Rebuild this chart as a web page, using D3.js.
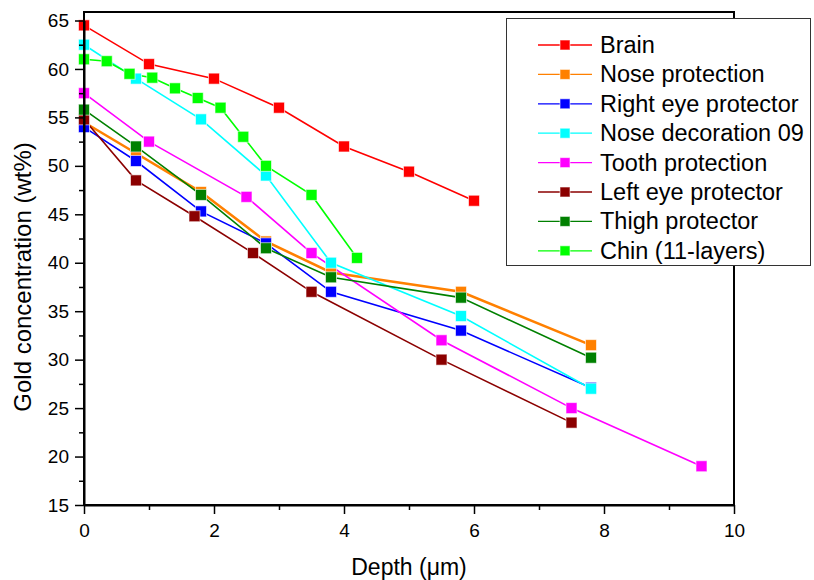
<!DOCTYPE html>
<html>
<head>
<meta charset="utf-8">
<script src="https://cdn.jsdelivr.net/npm/d3@7"></script>
<style>
  body { margin: 0; background: #fff; }
  text { font-family: "Liberation Sans", Arial, sans-serif; }
</style>
</head>
<body>
<div id="chart"></div>
<script>
// series names and colours
const seriesNames = ["Brain", "Nose protection", "Right eye protector", "Nose decoration 09",
  "Tooth protection", "Left eye protector", "Thigh protector", "Chin (11-layers)"];
const seriesColors = ["#ff0000", "#ff8000", "#0000ff", "#00ffff", "#ff00ff", "#8b0000", "#008000", "#00ff00"];

// depth (um) and gold concentration (wt%) per series
const brainX = [0, 1, 2, 3, 4, 5, 6];
const brainY = [64.5, 60.5, 59, 56, 52, 49.4, 46.4];
const noseProtX = [0, 0.8, 1.8, 2.8, 3.8, 5.8, 7.8];
const noseProtY = [54.5, 51.3, 47.3, 42.2, 39, 37, 31.5];
const rightEyeX = [0, 0.8, 1.8, 2.8, 3.8, 5.8, 7.8];
const rightEyeY = [54, 50.5, 45.3, 42, 37, 33, 27.1];
const noseDecoX = [0, 0.8, 1.8, 2.8, 3.8, 5.8, 7.8];
const noseDecoY = [62.5, 59, 54.8, 49, 40, 34.5, 27];
const toothX = [0, 1, 2.5, 3.5, 5.5, 7.5, 9.5];
const toothY = [57.5, 52.5, 46.8, 41, 32, 25, 19];
const leftEyeX = [0, 0.8, 1.7, 2.6, 3.5, 5.5, 7.5];
const leftEyeY = [54.8, 48.5, 44.8, 41, 37, 30, 23.5];
const thighX = [0, 0.8, 1.8, 2.8, 3.8, 5.8, 7.8];
const thighY = [55.8, 52, 47, 41.5, 38.5, 36.4, 30.2];
const chinX = [0, 0.35, 0.7, 1.05, 1.4, 1.75, 2.1, 2.45, 2.8, 3.5, 4.2];
const chinY = [61, 60.8, 59.5, 59.1, 58, 57, 56, 53, 50, 47, 40.5];

const xTicks = [0, 2, 4, 6, 8, 10];
const yTicks = [15, 20, 25, 30, 35, 40, 45, 50, 55, 60, 65];

const seriesX = [brainX, noseProtX, rightEyeX, noseDecoX, toothX, leftEyeX, thighX, chinX];
const seriesY = [brainY, noseProtY, rightEyeY, noseDecoY, toothY, leftEyeY, thighY, chinY];
const series = seriesNames.map((name, i) => ({
  name, color: seriesColors[i],
  points: seriesX[i].map((x, j) => ({x, y: seriesY[i][j]}))
}));

const W = 814, H = 580;
const m = {left: 84, right: 734, top: 12, bottom: 505};

const svg = d3.select("#chart").append("svg")
  .attr("width", W).attr("height", H);

const xScale = d3.scaleLinear().domain([0, 10]).range([m.left, m.right]);
const yScale = d3.scaleLinear().domain([15, 65]).range([m.bottom, 20.5]);

// lines
const line = d3.line().x(d => xScale(d.x)).y(d => yScale(d.y));
const plotG = svg.append("g");
series.forEach((s, i) => {
  plotG.append("path")
    .datum(s.points)
    .attr("fill", "none")
    .attr("stroke", s.color)
    .attr("stroke-width", i === 1 ? 2.6 : 1.6)
    .attr("d", line);
});
// markers
const ms = 11;
series.forEach(s => {
  plotG.selectAll(null)
    .data(s.points)
    .join("rect")
    .attr("x", d => xScale(d.x) - ms / 2)
    .attr("y", d => yScale(d.y) - ms / 2)
    .attr("width", ms).attr("height", ms)
    .attr("fill", s.color)
    .attr("stroke", "#fff")
    .attr("stroke-opacity", 0.6)
    .attr("stroke-width", 1);
});

// frame
svg.append("rect")
  .attr("x", m.left).attr("y", m.top)
  .attr("width", m.right - m.left).attr("height", m.bottom - m.top)
  .attr("fill", "none").attr("stroke", "#000").attr("stroke-width", 2);

// axes
const xAxisG = svg.append("g").attr("transform", `translate(0,${m.bottom})`)
  .call(d3.axisBottom(xScale).tickValues(xTicks).tickSize(9).tickSizeOuter(0).tickPadding(10));
svg.append("g").attr("transform", `translate(0,${m.bottom})`)
  .call(d3.axisBottom(xScale).tickValues(d3.range(1, 10, 2)).tickSize(5).tickFormat(""))
  .call(g => g.select(".domain").remove());
const yAxisG = svg.append("g").attr("transform", `translate(${m.left},0)`)
  .call(d3.axisLeft(yScale).tickValues(yTicks).tickSize(9).tickSizeOuter(0).tickPadding(6));
svg.append("g").attr("transform", `translate(${m.left},0)`)
  .call(d3.axisLeft(yScale).tickValues(d3.range(17.5, 65, 5)).tickSize(5).tickFormat(""))
  .call(g => g.select(".domain").remove());

svg.selectAll(".domain").attr("stroke-width", 2);
svg.selectAll(".tick line").attr("stroke-width", 1.5);
xAxisG.selectAll("text").attr("font-size", 19).attr("fill", "#000");
yAxisG.selectAll("text").attr("font-size", 19).attr("fill", "#000");

// axis titles
svg.append("text")
  .attr("x", (m.left + m.right) / 2).attr("y", 575)
  .attr("text-anchor", "middle")
  .attr("font-size", 23)
  .text("Depth (μm)");
svg.append("text")
  .attr("transform", "translate(31,277) rotate(-90)")
  .attr("text-anchor", "middle")
  .attr("font-size", 24)
  .text("Gold concentration (wt%)");

// legend
const legend = svg.append("g");
legend.append("rect")
  .attr("x", 506.5).attr("y", 18.5)
  .attr("width", 304).attr("height", 247)
  .attr("fill", "#fff").attr("stroke", "#333").attr("stroke-width", 1);
const rowH = 29.4;
series.forEach((s, i) => {
  const cy = 45 + i * rowH;
  legend.append("line")
    .attr("x1", 538).attr("x2", 592).attr("y1", cy).attr("y2", cy)
    .attr("stroke", s.color).attr("stroke-width", 1.3);
  legend.append("rect")
    .attr("x", 565 - 5).attr("y", cy - 5).attr("width", 10).attr("height", 10)
    .attr("fill", s.color).attr("stroke", "#fff").attr("stroke-opacity", 0.6);
  legend.append("text")
    .attr("x", 600).attr("y", cy + 8)
    .attr("font-size", 23.5)
    .text(s.name);
});
</script>
</body>
</html>
